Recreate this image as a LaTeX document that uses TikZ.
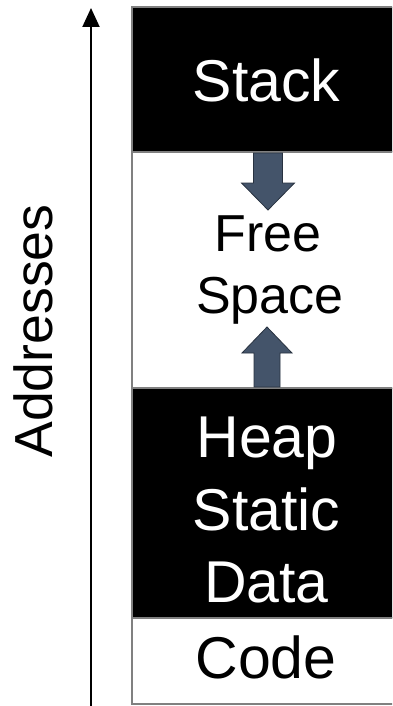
\documentclass[tikz,border=0pt]{standalone}
\usepackage{fontspec}
\setmainfont{Liberation Sans}
\usetikzlibrary{arrows.meta}
\definecolor{rimgray}{RGB}{128,128,128}
\definecolor{slate}{RGB}{68,84,106}
\definecolor{slateedge}{RGB}{40,50,64}
\tikzset{
  darkseg/.style={fill=black, draw=rimgray, line width=2.5pt},
  lightseg/.style={fill=white, draw=rimgray, line width=2.5pt},
  whitelabel/.style={text=white, anchor=base, inner sep=0pt, font=\fontsize{59}{70}\selectfont},
  blacklabel/.style={text=black, anchor=base, inner sep=0pt, font=\fontsize{59}{70}\selectfont},
  freelabel/.style={text=black, anchor=base, inner sep=0pt, font=\fontsize{52}{62}\selectfont},
  growarrow/.style={fill=slate, draw=slateedge, line width=0.8pt, line join=miter},
  axisarrow/.style={draw=black, line width=2pt, -{Triangle[length=19pt,width=17pt]}}
}
\begin{document}
\begin{tikzpicture}[x=1pt,y=-1pt]
  \useasboundingbox (0,0) rectangle (392,706);
  \begin{scope}
    \clip (0,0) rectangle (392,706);
    % memory segments, top to bottom
    \draw[darkseg]  (132,7)   rectangle (410,152);
    \draw[lightseg] (132,152) rectangle (410,388);
    \draw[darkseg]  (132,388) rectangle (410,618);
    \draw[lightseg] (132,618) rectangle (410,704);
  \end{scope}

  % stack grows down, heap grows up
  \draw[growarrow] (253.5,153) -- (282.5,153) -- (282.5,183) -- (294.5,183)
     -- (268,210) -- (241.5,183) -- (253.5,183) -- cycle;
  \draw[growarrow] (254,387) -- (280,387) -- (280,353) -- (292,353)
     -- (267,327) -- (242,353) -- (254,353) -- cycle;

  % segment labels
  \node[whitelabel] (stack)  at (266.5,102) {Stack};
  \node[freelabel]  (free)   at (268,251)   {Free};
  \node[freelabel]  (space)  at (270,313)   {Space};
  \node[whitelabel] (heap)   at (267,457)   {Heap};
  \node[whitelabel] (static) at (266.5,530) {Static};
  \node[whitelabel] (data)   at (266.5,602) {Data};
  \node[blacklabel] (code)   at (266,678)   {Code};

  % address axis
  \coordinate (axislow)  at (91,706);
  \coordinate (axishigh) at (91,8);
  \draw[axisarrow] (axislow) -- (axishigh);
  \node[rotate=90, anchor=base, inner sep=0pt, font=\fontsize{53.6}{64}\selectfont]
    (addresses) at (52,331) {Addresses};
\end{tikzpicture}
\end{document}
